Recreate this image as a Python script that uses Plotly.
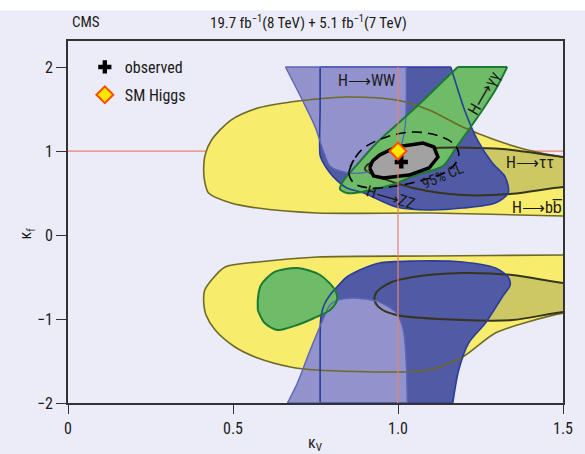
import plotly.graph_objects as go

# Best fit and Standard Model point (kappa_V, kappa_f)
kv_obs, kf_obs = [1.01], [0.87]
kv_sm, kf_sm = [1.0], [1.0]
kv_span = [0.0, 1.5]
kf_span = [-2.0, 2.0]

# 68% CL regions of the individual decay channels
bb_up_kv = [1.6, 1.501, 1.393, 1.295, 1.196, 1.094, 0.995, 0.845, 0.755, 0.674, 0.575, 0.494, 0.435,
            0.416, 0.411, 0.415, 0.426, 0.494, 0.575, 0.755, 1.094, 1.501, 1.6]
bb_up_kf = [0.90, 0.929, 1.012, 1.131, 1.286, 1.488, 1.607, 1.643, 1.619, 1.583, 1.512, 1.369, 1.131,
            0.96, 0.774, 0.62, 0.5, 0.381, 0.321, 0.262, 0.262, 0.226, 0.22]
bb_dn_kv = [1.6, 1.501, 1.094, 0.755, 0.575, 0.476, 0.435, 0.414, 0.411, 0.418, 0.446, 0.506, 0.575,
            0.674, 0.755, 0.995, 1.094, 1.196, 1.295, 1.393, 1.501, 1.6]
bb_dn_kf = [-0.235, -0.238, -0.25, -0.262, -0.321, -0.381, -0.536, -0.66, -0.774, -0.95, -1.131, -1.333,
            -1.464, -1.571, -1.607, -1.631, -1.607, -1.452, -1.167, -1.036, -0.929, -0.9]

tt_up_kv = [1.6, 1.501, 1.316, 1.115, 0.995, 0.935, 0.905, 0.9, 0.93, 1.046, 1.196, 1.346, 1.501, 1.6]
tt_up_kf = [0.90, 0.929, 1.024, 1.036, 0.976, 0.89, 0.83, 0.78, 0.71, 0.56, 0.476, 0.49, 0.571, 0.58]
tt_dn_kv = [1.6, 1.501, 1.346, 1.196, 1.046, 0.974, 0.935, 0.929, 0.945, 0.995, 1.196, 1.346, 1.501, 1.6]
tt_dn_kf = [-0.6, -0.571, -0.476, -0.452, -0.5, -0.571, -0.68, -0.774, -0.87, -0.952, -1.012, -1.012,
            -0.917, -0.9]

zz_up_kv = [0.764, 0.764, 0.764, 0.772, 0.79, 0.815, 0.845, 0.896, 0.995, 1.094, 1.196, 1.295, 1.334,
            1.325, 1.286, 1.241, 1.205, 1.175, 1.160]
zz_up_kf = [2.0, 1.5, 0.95, 0.87, 0.76, 0.65, 0.56, 0.5, 0.333, 0.298, 0.321, 0.381, 0.5, 0.69, 0.857,
            1.131, 1.452, 1.81, 2.0]
zz_dn_kv = [0.764, 0.764, 0.766, 0.776, 0.794, 0.815, 0.845, 0.884, 0.944, 1.046, 1.196, 1.295, 1.334,
            1.34, 1.316, 1.265, 1.214, 1.184, 1.166]
zz_dn_kf = [-2.0, -1.5, -0.988, -0.833, -0.714, -0.619, -0.5, -0.417, -0.333, -0.31, -0.321, -0.393,
            -0.5, -0.595, -0.738, -1.048, -1.286, -1.607, -2.0]

ww_up_kv = [0.659, 0.71, 0.749, 0.776, 0.794, 0.836, 0.89, 0.95, 0.989, 1.01, 1.022, 1.025, 1.025]
ww_up_kf = [2.0, 1.607, 1.286, 0.976, 0.821, 0.75, 0.738, 0.798, 0.917, 1.071, 1.31, 1.6, 2.0]
ww_dn_kv = [0.665, 0.695, 0.734, 0.776, 0.794, 0.824, 0.869, 0.944, 0.995, 1.016, 1.025, 1.028]
ww_dn_kf = [-2.0, -1.762, -1.369, -0.976, -0.833, -0.768, -0.75, -0.798, -0.929, -1.131, -1.524, -2.0]

gg_up_kv = [1.331, 1.295, 1.256, 1.214, 1.175, 1.136, 1.055, 0.98, 0.89, 0.845, 0.824, 0.836, 0.875,
            0.935, 0.995, 1.055, 1.115, 1.181]
gg_up_kf = [2.0, 1.726, 1.488, 1.25, 1.036, 0.82, 0.714, 0.595, 0.512, 0.5, 0.548, 0.655, 0.833,
            1.095, 1.31, 1.524, 1.75, 2.0]
gg_dn_kv = [0.575, 0.584, 0.626, 0.695, 0.764, 0.809, 0.815, 0.794, 0.746, 0.695, 0.635, 0.596, 0.575]
gg_dn_kf = [-0.774, -0.60, -0.44, -0.393, -0.476, -0.655, -0.774, -0.893, -0.988, -1.071, -1.131,
            -1.048, -0.893]

# Combined fit: 68% and 95% CL contours
c68_kv = [0.914, 0.926, 0.956, 1.034, 1.094, 1.121, 1.109, 1.076, 0.995, 0.944, 0.923]
c68_kf = [0.798, 0.702, 0.679, 0.714, 0.798, 0.929, 1.048, 1.095, 1.048, 0.952, 0.881]
c95_kv = [0.851, 0.866, 0.896, 0.974, 1.046, 1.115, 1.166, 1.184, 1.175, 1.145, 1.076, 0.995, 0.914, 0.866]
c95_kf = [0.75, 0.893, 1.036, 1.179, 1.226, 1.19, 1.095, 0.976, 0.857, 0.75, 0.655, 0.583, 0.56, 0.619]

# Channel labels
lab_text = ["H\u27f6WW", "H\u27f6\u03b3\u03b3", "H\u27f6\u03c4\u03c4", "H\u27f6bb\u0305", "H\u27f6ZZ", "95% CL"]
lab_kv = [0.905, 1.259, 1.399, 1.42, 0.98, 1.136]
lab_kf = [1.845, 1.69, 0.869, 0.333, 0.452, 0.70]
lab_angle = [0, -60, 0, 0, 16, -23]

FONT = "Liberation Sans Narrow, Arial Narrow, Roboto Condensed, Liberation Sans, sans-serif"
BG = "#ececf8"
RED = "#e8826e"

regions = [
    # (kv, kf, fill, outline, width)
    (bb_up_kv, bb_up_kf, "#f7ec6c", "#6e6928", 1.6),
    (bb_dn_kv, bb_dn_kf, "#f7ec6c", "#6e6928", 1.6),
    (tt_up_kv, tt_up_kf, "#cdc864", "#37341e", 2.0),
    (tt_dn_kv, tt_dn_kf, "#cdc864", "#37341e", 2.0),
    (zz_up_kv, zz_up_kf, "#505aa5", "#2a3c9c", 1.6),
    (zz_dn_kv, zz_dn_kf, "#505aa5", "#2a3c9c", 1.6),
    (ww_up_kv, ww_up_kf, "#9292cc", "#5c66b6", 1.4),
    (ww_dn_kv, ww_dn_kf, "#9292cc", "#5c66b6", 1.4),
    (gg_up_kv, gg_up_kf, "#6ebc68", "#1d7a35", 2.0),
    (gg_dn_kv, gg_dn_kf, "#6ebc68", "#1d7a35", 2.0),
]

fig = go.Figure()

# SM reference line in kappa_f (below the regions)
fig.add_trace(go.Scatter(x=kv_span, y=[kf_sm[0]] * 2, mode="lines",
                         line=dict(color=RED, width=1.2), showlegend=False, hoverinfo="skip"))

# Channel fills first, then every outline on top of them
for kv, kf, fc, lc, w in regions:
    fig.add_trace(go.Scatter(x=kv, y=kf, mode="lines", fill="toself", fillcolor=fc,
                             line=dict(width=0, shape="spline", smoothing=0.8),
                             showlegend=False, hoverinfo="skip"))
for kv, kf, fc, lc, w in regions:
    # smooth open boundary ...
    fig.add_trace(go.Scatter(x=kv, y=kf, mode="lines",
                             line=dict(color=lc, width=w, shape="spline", smoothing=0.8),
                             showlegend=False, hoverinfo="skip"))
    # ... closed by the straight edge of the scan range
    fig.add_trace(go.Scatter(x=[kv[-1], kv[0]], y=[kf[-1], kf[0]], mode="lines",
                             line=dict(color=lc, width=w),
                             showlegend=False, hoverinfo="skip"))

# Combined contours
fig.add_trace(go.Scatter(x=c68_kv + c68_kv[:1], y=c68_kf + c68_kf[:1], mode="lines", fill="toself",
                         fillcolor="#a2a2a2", line=dict(color="black", width=3.5),
                         showlegend=False, hoverinfo="skip"))
fig.add_trace(go.Scatter(x=c95_kv + c95_kv[:2], y=c95_kf + c95_kf[:2], mode="lines",
                         line=dict(color="black", width=1.6, dash="10px,6px", shape="spline", smoothing=1),
                         showlegend=False, hoverinfo="skip"))

# SM reference line in kappa_V (above the regions)
fig.add_trace(go.Scatter(x=[kv_sm[0]] * 2, y=kf_span, mode="lines",
                         line=dict(color=RED, width=1.2), showlegend=False, hoverinfo="skip"))

fig.add_trace(go.Scatter(x=kv_obs, y=kf_obs, mode="markers", name="observed", legendgroup="a",
                         marker=dict(symbol="cross", size=11, color="black", line=dict(width=0))))
fig.add_trace(go.Scatter(x=kv_sm, y=kf_sm, mode="markers", name="SM Higgs", legendgroup="b",
                         marker=dict(symbol="diamond", size=13, color="#ffe600",
                                     line=dict(color="#ff4d00", width=2))))

for t, x, y, a in zip(lab_text, lab_kv, lab_kf, lab_angle):
    fig.add_annotation(x=x, y=y, text=t, textangle=a, showarrow=False,
                       font=dict(family=FONT, size=16 if t != "95% CL" else 15, color="#1a1a1a"))

# Header and axis titles
fig.add_annotation(xref="paper", yref="paper", x=0.004, y=1.0525, xanchor="left", yanchor="middle",
                   text="CMS", showarrow=False, font=dict(family=FONT, size=15, color="#1a1a1a"))
fig.add_annotation(xref="paper", yref="paper", x=0.485, y=1.0525, xanchor="center", yanchor="middle",
                   text="19.7 fb<sup>\u22121</sup>(8 TeV) + 5.1 fb<sup>\u22121</sup>(7 TeV)",
                   showarrow=False, font=dict(family=FONT, size=15, color="#1a1a1a"))
fig.add_annotation(xref="paper", yref="paper", x=0.5, y=-0.113, xanchor="center", yanchor="middle",
                   text="\u03ba<sub>V</sub>", showarrow=False,
                   font=dict(family=FONT, size=16, color="#1a1a1a"))
fig.add_annotation(xref="paper", yref="paper", x=-0.083, y=0.468, xanchor="center", yanchor="middle",
                   text="\u03ba<sub>f</sub>", textangle=-90, showarrow=False,
                   font=dict(family=FONT, size=16, color="#1a1a1a"))

# Light strip across the top of the page
fig.add_shape(type="rect", xref="paper", yref="paper", x0=-0.2, x1=1.2, y0=1.085, y1=1.2,
              fillcolor="white", line=dict(width=0), layer="below")

fig.update_layout(
    width=585, height=454,
    margin=dict(l=68, r=16, t=41, b=51),
    paper_bgcolor=BG, plot_bgcolor=BG,
    font=dict(family=FONT, size=16, color="#1a1a1a"),
    showlegend=True,
    legend=dict(x=0.034, y=0.975, xanchor="left", yanchor="top", bgcolor="rgba(0,0,0,0)",
                font=dict(family=FONT, size=16), tracegroupgap=4),
    xaxis=dict(range=[0, 1.5], tickvals=[0, 0.5, 1.0, 1.5], ticktext=["0", "0.5", "1.0", "1.5"],
               showgrid=False, zeroline=False, ticks="outside", ticklen=9, tickwidth=1.2,
               tickcolor="#333", showline=True, linecolor="#333", linewidth=1.6, mirror=True,
               tickfont=dict(family=FONT, size=16), ticklabelstandoff=1),
    yaxis=dict(range=[-2, 2.31], tickvals=[-2, -1, 0, 1, 2], ticktext=["\u22122", "\u22121", "0", "1", "2"],
               showgrid=False, zeroline=False, ticks="outside", ticklen=10, tickwidth=1.2,
               tickcolor="#333", showline=True, linecolor="#333", linewidth=1.6, mirror=True,
               tickfont=dict(family=FONT, size=16)),
)

fig.write_html("out.html")
